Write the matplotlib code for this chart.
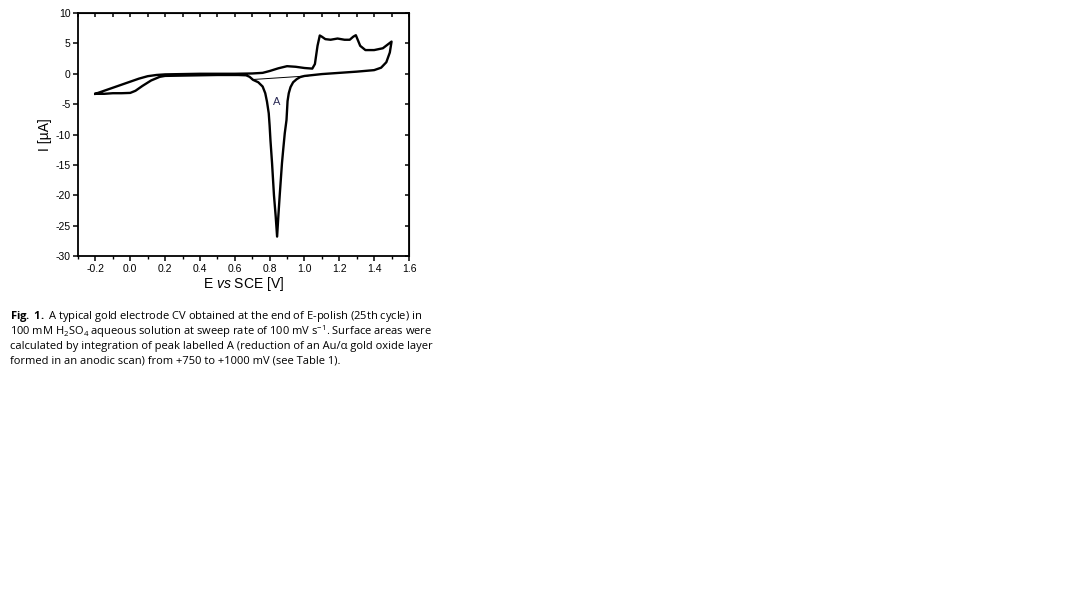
import numpy as np
import matplotlib
matplotlib.use('Agg')
import matplotlib.pyplot as plt
from matplotlib.ticker import MultipleLocator

plt.rcParams['font.family'] = ['Liberation Sans', 'DejaVu Sans']
plt.rcParams['axes.unicode_minus'] = False
plt.rcParams['mathtext.fontset'] = 'custom'
plt.rcParams['mathtext.rm'] = 'Open Sans'
plt.rcParams['mathtext.bf'] = 'Open Sans:bold'
plt.rcParams['mathtext.it'] = 'Liberation Sans:italic'

# anodic sweep, -0.2 V -> 1.5 V
E_anodic = [-0.20, -0.15, -0.10, -0.05, 0.00, 0.05, 0.10, 0.15, 0.20, 0.30,
            0.40, 0.50, 0.60, 0.70, 0.76, 0.80, 0.85, 0.90, 0.95, 1.00,
            1.045, 1.06, 1.075, 1.088, 1.10, 1.12, 1.15, 1.19, 1.23, 1.26,
            1.28, 1.295, 1.32, 1.35, 1.40, 1.45, 1.50]
I_anodic = [-3.3, -2.8, -2.3, -1.8, -1.3, -0.8, -0.4, -0.2, -0.1, -0.05,
            0.0, 0.0, 0.0, 0.05, 0.15, 0.45, 0.9, 1.25, 1.15, 0.95,
            0.85, 1.6, 4.6, 6.3, 6.1, 5.7, 5.6, 5.8, 5.6, 5.6,
            6.1, 6.35, 4.6, 3.9, 3.9, 4.2, 5.3]

# cathodic sweep, 1.5 V -> -0.2 V
E_cathodic = [1.50, 1.49, 1.47, 1.44, 1.40, 1.30, 1.20, 1.10, 1.00, 0.975,
              0.955, 0.935, 0.92, 0.91, 0.903, 0.897, 0.887, 0.878, 0.871, 0.858,
              0.85, 0.843, 0.835, 0.825, 0.814, 0.805, 0.80, 0.795, 0.785, 0.775,
              0.76, 0.735, 0.705, 0.685, 0.665, 0.62, 0.50, 0.40, 0.30, 0.20,
              0.17, 0.12, 0.07, 0.03, 0.00, -0.05, -0.10, -0.15, -0.20]
I_cathodic = [5.3, 3.5, 1.9, 1.0, 0.6, 0.35, 0.15, -0.05, -0.36, -0.55,
              -0.9, -1.4, -2.2, -3.2, -4.5, -7.6, -9.8, -12.5, -14.7, -20.0,
              -23.5, -26.8, -23.5, -20.0, -14.7, -11.0, -8.5, -6.5, -4.6, -3.2,
              -2.1, -1.4, -1.0, -0.5, -0.25, -0.2, -0.2, -0.25, -0.3, -0.35,
              -0.5, -1.1, -2.0, -2.8, -3.15, -3.2, -3.2, -3.3, -3.3]

# integration baseline under peak A
E_base = [0.70, 1.02]
I_base = [-0.95, -0.35]

caption = [
    r"$\mathbf{Fig.\ 1.}$ A typical gold electrode CV obtained at the end of E-polish (25th cycle) in",
    r"100 mM H$_2$SO$_4$ aqueous solution at sweep rate of 100 mV s$^{-1}$. Surface areas were",
    "calculated by integration of peak labelled A (reduction of an Au/\u03b1 gold oxide layer",
    "formed in an anodic scan) from +750 to +1000 mV (see Table 1).",
]

fig = plt.figure(figsize=(10.74, 6.14), dpi=100)
ax = fig.add_axes([0.0726, 0.583, 0.3082, 0.3958])

ax.plot(np.r_[E_anodic, E_cathodic], np.r_[I_anodic, I_cathodic], color='black', lw=1.7)
ax.plot(E_base, I_base, color='black', lw=0.7)
ax.text(0.84, -4.6, 'A', fontsize=8, color='#2a2a55', ha='center', va='center')

ax.set_xlim(-0.3, 1.6)
ax.set_ylim(-30, 10)
ax.xaxis.set_major_locator(MultipleLocator(0.2))
ax.xaxis.set_minor_locator(MultipleLocator(0.1))
ax.yaxis.set_major_locator(MultipleLocator(5))
ax.set_xticks(np.arange(-0.2, 1.61, 0.2))
ax.set_xticklabels(['%.1f' % v for v in np.arange(-0.2, 1.61, 0.2)])
ax.tick_params(axis='both', which='major', direction='out', length=3.5, width=1.1, labelsize=7.5, pad=2)
ax.tick_params(axis='x', which='minor', direction='out', length=2, width=1.0)
for s in ax.spines.values():
    s.set_linewidth(1.3)

top = ax.secondary_xaxis('top')
top.xaxis.set_major_locator(MultipleLocator(0.1))
top.tick_params(direction='in', length=3, width=1.1, labeltop=False)
right = ax.secondary_yaxis('right')
right.yaxis.set_major_locator(MultipleLocator(5))
right.tick_params(direction='in', length=3, width=1.1, labelright=False)

ax.set_xlabel(r'E $\mathit{vs}$ SCE [V]', fontsize=10, labelpad=1)
ax.set_ylabel('I [\u00b5A]', fontsize=10, labelpad=2)

for i, line in enumerate(caption):
    fig.text(10 / 1074, 1 - (317 + i * 14.8) / 614, line, fontsize=8.0,
             family=['Open Sans', 'DejaVu Sans'], va='center', ha='left')

fig.savefig('out.png', dpi=100)
